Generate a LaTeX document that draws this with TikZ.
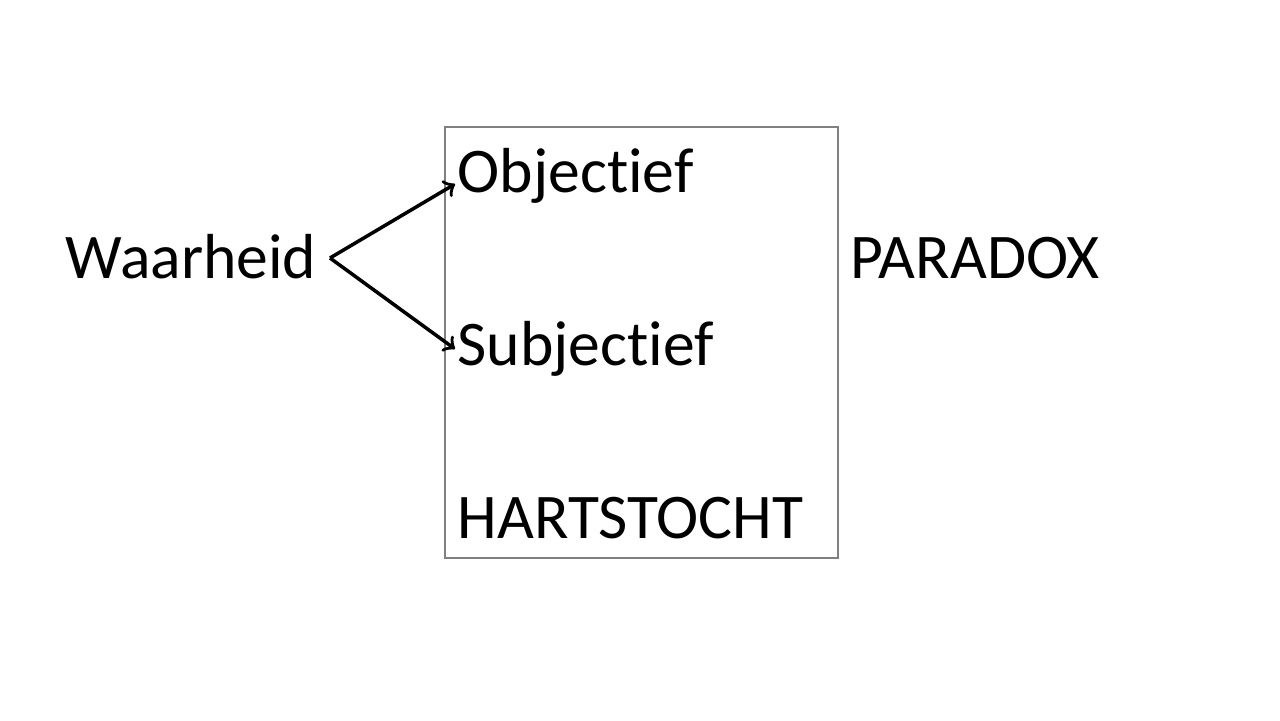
\documentclass[tikz,border=0pt]{standalone}
\usepackage{fontspec}
\setmainfont[Ligatures=NoCommon]{Carlito}
\begin{document}
\begin{tikzpicture}[x=0.1mm,y=-0.1mm,
    word/.style={anchor=base west,inner sep=0pt,font=\fontsize{18.1}{22}\selectfont},
    frame/.style={draw=black!50,line width=0.5pt}]
      % \draw[help lines](0,0) grid (1280,720);
      \useasboundingbox (0,0) rectangle (1280,720);

      \draw[frame] (445,127) rectangle (838,558);

      \draw (65,278) node[word] (truth) {Waarheid};
      \draw (457,192) node[word] (obj) {Objectief};
      \draw (457,365) node[word] (subj) {Subjectief};
      \draw (457,538) node[word] (passion) {HARTSTOCHT};
      \draw (850,278) node[word] (paradox) {PARADOX};

      \coordinate (fork) at (330,258);
      \draw [->,line width=1pt] (fork) -- (455,184);
      \draw [->,line width=1pt] (fork) -- (455,349);
    \end{tikzpicture}
\end{document}
